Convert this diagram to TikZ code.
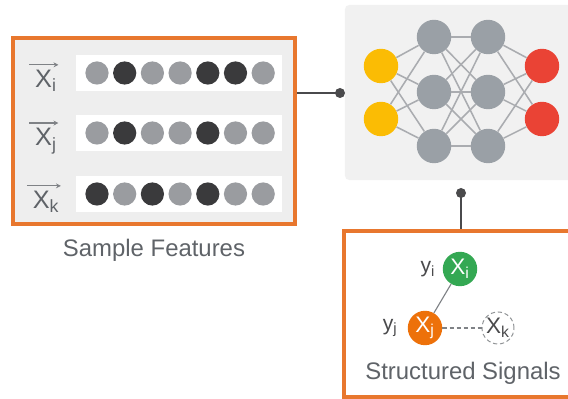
\documentclass[tikz,border=0pt]{standalone}
\usepackage{fontspec}
\setmainfont{Liberation Sans}
\usepackage{tikz}
\usetikzlibrary{arrows.meta,positioning,calc}
\definecolor{gorange}{RGB}{232, 119, 46}
\definecolor{gtext}{RGB}{95, 99, 104}
\definecolor{featL}{RGB}{154, 156, 160}
\definecolor{featD}{RGB}{58, 58, 60}
\definecolor{boxgray}{RGB}{238, 238, 238}
\definecolor{panelgray}{RGB}{241, 241, 241}
\definecolor{unitgray}{RGB}{154, 160, 166}
\definecolor{wiregray}{RGB}{170, 172, 176}
\definecolor{gyellow}{RGB}{251, 188, 4}
\definecolor{gred}{RGB}{234, 67, 53}
\definecolor{ggreen}{RGB}{52, 168, 83}
\definecolor{gorangenode}{RGB}{237, 113, 10}
\definecolor{linkgray}{RGB}{74, 74, 76}

\begin{document}
\begin{tikzpicture}[x=0.025cm, y=-0.025cm,
    frame/.style={draw=gorange, line width=2.2pt, inner sep=0pt},
    strip/.style={fill=white, inner sep=0pt, minimum width=5.15cm, minimum height=0.92cm},
    feat/.style={circle, inner sep=0pt, minimum size=0.58cm},
    unit/.style={circle, inner sep=0pt, minimum size=0.86cm},
    wire/.style={draw=wiregray, line width=1.1pt},
    link/.style={draw=linkgray, line width=2pt},
    linkdot/.style={circle, fill=linkgray, inner sep=0pt, minimum size=0.25cm},
    veclbl/.style={inner sep=0pt, text=gtext, font=\fontsize{18}{21}\selectfont},
    vecarrow/.style={draw=gtext!80, line width=0.9pt, -{Stealth[length=3.5pt,width=3.5pt]}},
    caption/.style={text=gtext, font=\fontsize{17}{20}\selectfont},
    sig/.style={circle, inner sep=0pt, minimum size=0.86cm, font=\fontsize{16}{19}\selectfont},
    ylbl/.style={inner sep=0pt, text=linkgray, font=\fontsize{15}{18}\selectfont}
]
    \useasboundingbox (0,0) rectangle (568,399);

    % sample features
    \node[frame, fill=boxgray, minimum width=7.05cm, minimum height=4.65cm] (samples) at (154,131) {};
    \foreach \r/\yy/\pat in {i/73/{L,D,L,L,D,D,L}, j/133/{L,D,L,L,D,L,L}, k/194/{D,L,D,L,D,L,L}} {
        \node[strip] (strip\r) at (179,\yy) {};
        \foreach \c [count=\n] in \pat
            \node[feat, fill=feat\c] (f\r\n) at ({97+(\n-1)*27.7},\yy) {};
        \node[veclbl] (lbl\r) at (46,\yy+8) {X\textsubscript{\r}};
        \draw[vecarrow] ([xshift=-4pt,yshift=3.5pt]lbl\r.north west) -- ([xshift=1pt,yshift=3.5pt]lbl\r.north east);
    }
    \node[caption] (samplecap) at (154,250) {Sample Features};

    % network
    \node[fill=panelgray, rounded corners=3pt, minimum width=5.75cm, minimum height=4.375cm] (nnpanel) at (460,92.5) {};
    \foreach \n/\yy in {1/66, 2/119} {
        \node[unit, fill=gyellow] (in\n) at (381,\yy) {};
        \node[unit, fill=gred] (out\n) at (542,\yy) {};
    }
    \foreach \n/\yy in {1/37, 2/92, 3/146} {
        \node[unit, fill=unitgray] (ha\n) at (434,\yy) {};
        \node[unit, fill=unitgray] (hb\n) at (488,\yy) {};
    }
    \foreach \a in {1,2}
        \foreach \b in {1,2,3} {
            \draw[wire] (in\a) -- (ha\b);
            \draw[wire] (hb\b) -- (out\a);
        }
    \foreach \a in {1,2,3}
        \foreach \b in {1,2,3}
            \draw[wire] (ha\a) -- (hb\b);

    % structured signals
    \node[frame, fill=white, minimum width=5.7cm, minimum height=4.15cm] (signals) at (458,314) {};
    \node[sig, fill=ggreen, text=white] (xi) at (460,269) {X\textsubscript{i}};
    \node[sig, fill=gorangenode, text=white] (xj) at (425,328) {X\textsubscript{j}};
    \node[sig, draw=gtext!70, densely dashed, line width=0.7pt, minimum size=0.8cm, text=linkgray] (xk) at (498,328) {X\textsubscript{k}};
    \node[ylbl, left=5pt of xi] (yi) {y\textsubscript{i}};
    \node[ylbl, left=7pt of xj] (yj) {y\textsubscript{j}};
    \draw[draw=gtext!80, line width=0.8pt] (xi) -- (xj);
    \draw[draw=gtext!80, line width=0.8pt, densely dashed] (xj) -- (xk);
    \node[caption] (signalcap) at (463,373) {Structured Signals};

    % connectors
    \coordinate (nnin) at (340,93);
    \coordinate (nnout) at (461,193);
    \draw[link] (nnin -| samples.east) -- (nnin);
    \node[linkdot] (dotin) at (nnin) {};
    \draw[link] (nnout) -- (nnout |- signals.north);
    \node[linkdot] (dotout) at (nnout) {};
\end{tikzpicture}
\end{document}
